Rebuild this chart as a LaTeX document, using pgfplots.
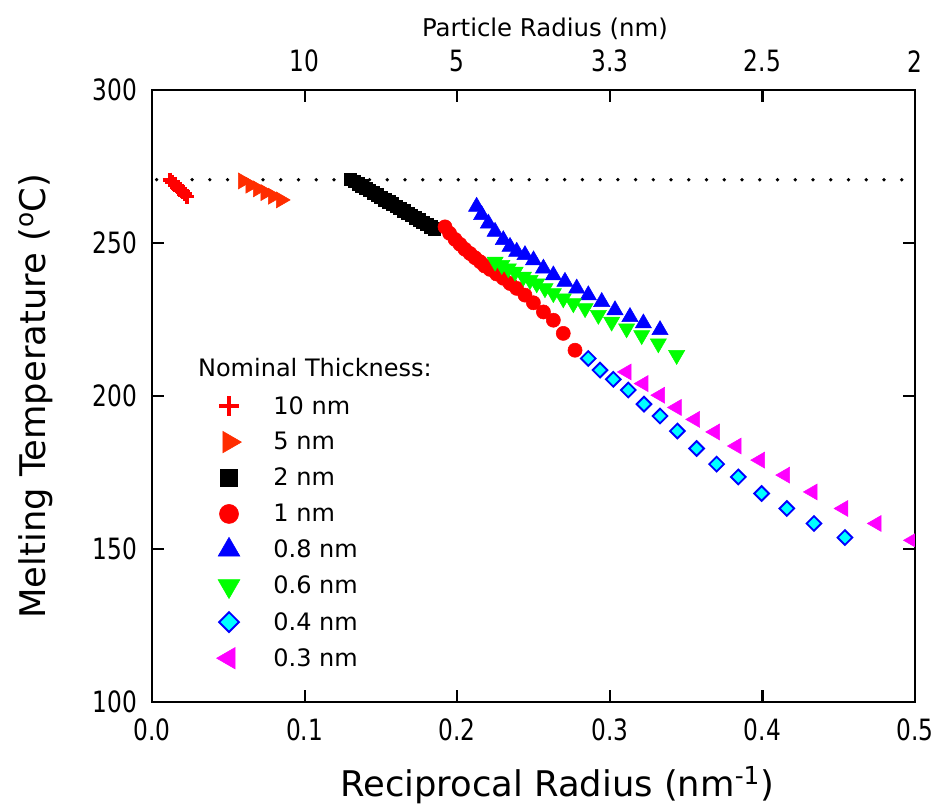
\documentclass[border=0pt]{standalone}
\usepackage{fontspec}
\setmainfont{DejaVu Sans}
\newfontfamily\tickfont{DejaVu Sans Condensed}[FakeStretch=0.88]
\usepackage{pgfplots}
\pgfplotsset{compat=1.18}
\definecolor{cred}{RGB}{255,0,0}
\definecolor{corange}{RGB}{255,45,0}
\definecolor{cblue}{RGB}{0,0,255}
\definecolor{cgreen}{RGB}{0,255,0}
\definecolor{ccyan}{RGB}{0,255,255}
\definecolor{cmag}{RGB}{255,0,255}
\begin{document}
\begin{tikzpicture}
\begin{axis}[name=main, scale only axis, width=572pt, height=459pt,
  xmin=0, xmax=0.5, ymin=100, ymax=300,
  xtick={0,0.1,0.2,0.3,0.4,0.5}, xticklabels={0.0,0.1,0.2,0.3,0.4,0.5},
  ytick={100,150,200,250,300},
  xtick pos=both, ytick pos=both, xticklabel pos=lower, yticklabel pos=left,
  tick align=inside, major tick length=9pt,
  axis line style={line width=1.7pt}, tick style={line width=1.7pt, black},
  ticklabel style={font=\tickfont\fontsize{22}{24}\selectfont, inner sep=0pt},
  xticklabel style={anchor=north, yshift=-12pt},
  yticklabel style={anchor=east, xshift=-11pt},
  /pgf/number format/assume math mode=true,
  xlabel={Reciprocal Radius (nm\textsuperscript{-1})},
  ylabel={Melting Temperature (\textsuperscript{o}C)},
  label style={font=\fontsize{26.5}{30}\selectfont},
  xlabel style={at={(axis description cs:0.531,-0.136)}, anchor=center},
  ylabel style={at={(axis description cs:-0.153,0.5)}, anchor=center},
  clip marker paths=true,
  legend cell align=left,
  legend style={draw=none, fill=none, at={(rel axis cs:0.079,0.509)}, anchor=north west,
    font=\fontsize{18}{21}\selectfont, row sep=8.2pt, column sep=22pt},
  legend image post style={every mark/.append style={scale=1.35}},
]
\addplot[black, line width=2.8pt, dash pattern=on 0pt off 13.3pt, line cap=round, forget plot]
  coordinates {(0.003,270.7) (0.5,270.7)};
\addplot[only marks, mark=+, color=cred, mark size=5.5pt, line width=2.6pt] coordinates {
(0.0118,270.6) (0.0134,269.9) (0.0150,269.1) (0.0166,268.3)
(0.0182,267.6) (0.0198,266.8) (0.0214,266.0) (0.0230,265.2)};
\addlegendentry{10 nm}
\addplot[only marks, mark=triangle*, color=corange, mark size=6.9pt, mark options={rotate=-90}] coordinates {
(0.0596,270.3) (0.0645,268.9) (0.0694,267.7) (0.0744,266.5) (0.0793,265.3) (0.0845,264.1)};
\addlegendentry{5 nm}
\addplot[only marks, mark=square*, color=black, mark size=4.7pt] coordinates {
(0.130,270.9) (0.1325,270.2) (0.135,269.4) (0.1375,268.7) (0.140,267.9) (0.1425,267.2)
(0.145,266.5) (0.1475,265.7) (0.150,265.0) (0.1525,264.2) (0.155,263.5) (0.1575,262.8)
(0.160,262.0) (0.1625,261.3) (0.165,260.5) (0.1675,259.8) (0.170,259.1) (0.1725,258.3)
(0.175,257.6) (0.1775,256.8) (0.180,256.1) (0.1825,255.4) (0.185,254.6)};
\addlegendentry{2 nm}
\addplot[only marks, mark=*, color=cred, mark size=5.3pt] coordinates {
(0.192,255.3) (0.195,253.2) (0.1986,251.2) (0.2018,249.6) (0.205,248.0) (0.2084,246.6)
(0.2117,245.2) (0.215,243.9) (0.218,242.5) (0.2215,241.4) (0.2258,239.9) (0.2302,238.5)
(0.2346,236.8) (0.239,235.2) (0.2444,233.0) (0.2499,230.5) (0.2565,227.5) (0.263,224.8)
(0.2695,220.5) (0.2772,215.0)};
\addlegendentry{1 nm}
\addplot[only marks, mark=triangle*, color=cblue, mark size=7pt] coordinates {
(0.2127,261.9) (0.216,259.2) (0.2204,256.4) (0.2248,253.7) (0.2302,251.0) (0.2346,248.8)
(0.239,247.2) (0.2444,246.1) (0.250,244.4) (0.2565,241.7) (0.263,239.5) (0.2706,237.4)
(0.2783,235.2) (0.2859,233.0) (0.2947,230.8) (0.3034,228.1) (0.3132,225.9) (0.322,223.8)
(0.3329,221.6)};
\addlegendentry{0.8 nm}
\addplot[only marks, mark=triangle*, color=cgreen, mark size=7pt, mark options={rotate=180}] coordinates {
(0.2248,243.9) (0.2292,242.8) (0.2335,241.7) (0.2379,240.6) (0.2434,239.0) (0.2477,237.9)
(0.2521,236.8) (0.2575,235.2) (0.263,233.6) (0.2695,231.9) (0.2761,230.3) (0.2838,228.7)
(0.2925,226.5) (0.3012,224.3) (0.311,222.1) (0.3209,219.9) (0.3318,217.2) (0.3438,213.4)};
\addlegendentry{0.6 nm}
\addplot[only marks, mark=square*, mark size=3.9pt, mark options={rotate=45, draw=cblue, fill=ccyan, line width=1.4pt}] coordinates {
(0.2859,212.3) (0.2936,208.5) (0.3023,205.5) (0.3121,202.0) (0.3224,197.4) (0.3329,193.5)
(0.3443,188.6) (0.3569,182.9) (0.370,177.8) (0.3842,173.6) (0.3995,168.2) (0.416,163.3)
(0.4338,158.4) (0.4541,153.8)};
\addlegendentry{0.4 nm}
\addplot[only marks, mark=triangle*, color=cmag, mark size=6.9pt, mark options={rotate=90}] coordinates {
(0.311,207.9) (0.322,204.1) (0.3329,200.3) (0.3438,196.3) (0.3558,192.4) (0.3689,188.3)
(0.3831,183.7) (0.3984,179.1) (0.4148,174.2) (0.4329,168.7) (0.453,163.3) (0.4748,158.4)
(0.4985,152.9)};
\addlegendentry{0.3 nm}
\node[anchor=west, font=\fontsize{18}{21}\selectfont, inner sep=0pt] at (axis cs:0.030,209.5) {Nominal Thickness:};
\end{axis}
\begin{axis}[scale only axis, width=572pt, height=459pt,
  xmin=0, xmax=0.5, ymin=100, ymax=300,
  axis x line*=top, axis y line=none, x axis line style={draw=none},
  xtick={0.1,0.2,0.3,0.4,0.5}, xticklabels={10,5,3.3,2.5,2},
  major tick length=0pt,
  ticklabel style={font=\tickfont\fontsize{22}{24}\selectfont, inner sep=0pt},
  xticklabel style={anchor=south, yshift=13pt},
  xlabel={Particle Radius (nm)},
  xlabel style={font=\fontsize{18.3}{21}\selectfont, at={(axis description cs:0.515,1.1)}, anchor=center},
]
\end{axis}
\path ([shift={(-114pt,-81pt)}]main.south west) rectangle ([shift={(18.75pt,67.5pt)}]main.north east);
\end{tikzpicture}
\end{document}
